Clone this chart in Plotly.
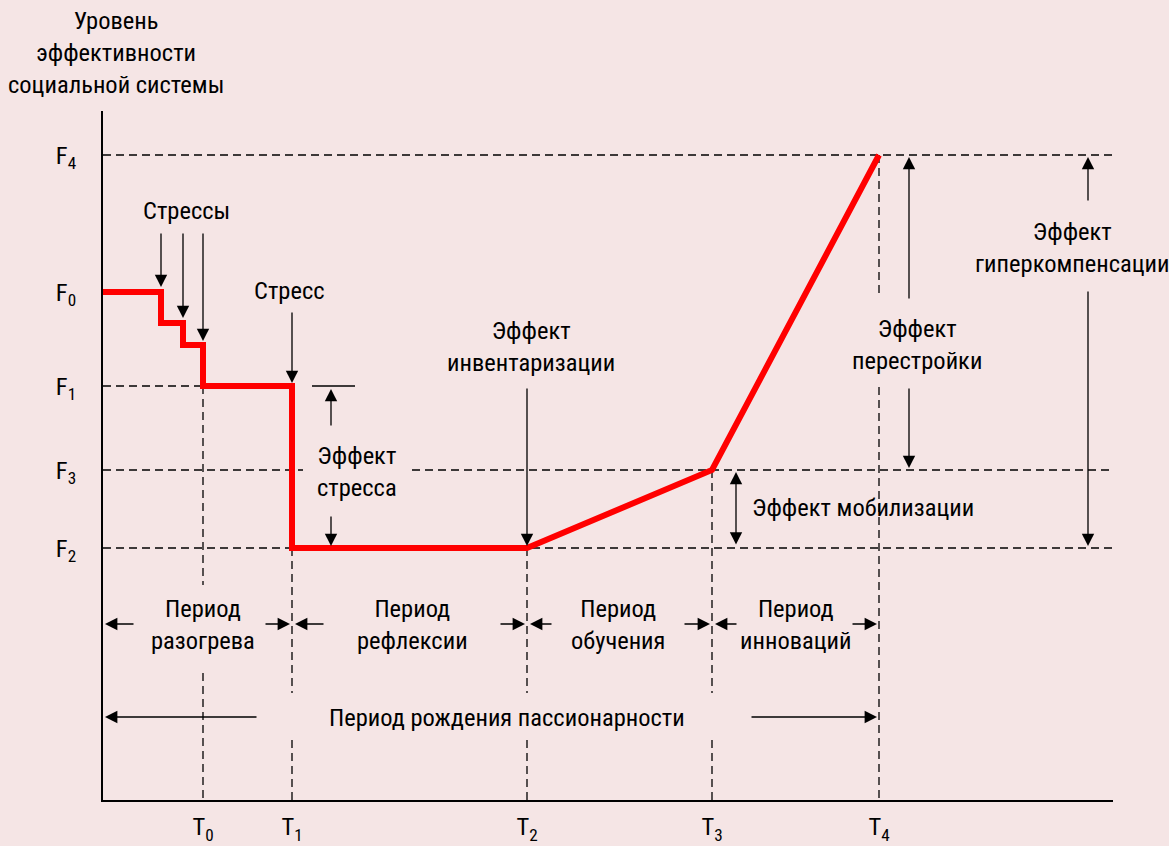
import plotly.graph_objects as go

# time marks (x) and efficiency levels (y)
T_LABELS = ["T<sub>0</sub>", "T<sub>1</sub>", "T<sub>2</sub>", "T<sub>3</sub>", "T<sub>4</sub>"]
T_VALUES = [100, 189, 424, 609, 776]
F_LABELS = ["F<sub>4</sub>", "F<sub>0</sub>", "F<sub>1</sub>", "F<sub>3</sub>", "F<sub>2</sub>"]
F_VALUES = [645, 508, 414, 330, 252]

# efficiency curve
curve_x = [0, 58, 58, 80, 80, 100, 100, 189, 189, 424, 609, 776]
curve_y = [508, 508, 477, 477, 455, 455, 414, 414, 252, 252, 330, 645]

# stress moments
stress_x = [58, 80, 100]
stress_tip = [513, 482, 459]

BG = "#f5e5e5"
FONT = "Liberation Sans Narrow, Arial Narrow, Roboto Condensed, DejaVu Sans Condensed, sans-serif"
FS = 24.5
T0, T1, T2, T3, T4 = T_VALUES
F4, F0, F1, F3, F2 = F_VALUES

fig = go.Figure()
fig.add_trace(go.Scatter(x=curve_x, y=curve_y, mode="lines",
                         line=dict(color="#ff0000", width=6), hoverinfo="skip"))

shapes = []


def dash(x0, y0, x1, y1):
    shapes.append(dict(type="line", x0=x0, y0=y0, x1=x1, y1=y1, xref="x", yref="y",
                       line=dict(color="black", width=1.3, dash="8px,5px"), layer="below"))


# horizontal guides
dash(0, F4, 1014, F4)
dash(0, F1, T0, F1)
dash(0, F3, 200, F3)
dash(309, F3, 1017, F3)
dash(0, F2, 1022, F2)
# vertical guides
dash(T0, F1, T0, 215)
dash(T0, 127, T0, 0)
for t, top in [(T1, F2), (T2, F2), (T3, F3)]:
    dash(t, top, t, 107)
    dash(t, 60, t, 0)
dash(T4, F4, T4, 502)
dash(T4, 413, T4, 0)
# small solid mark for stress effect
shapes.append(dict(type="line", x0=209, y0=F1, x1=252, y1=F1, xref="x", yref="y",
                   line=dict(color="black", width=1.3)))

annotations = []


def arrow(x, y, ax, ay, both=False):
    annotations.append(dict(x=x, y=y, ax=ax, ay=ay, xref="x", yref="y", axref="x", ayref="y",
                            text="", showarrow=True, arrowhead=2, arrowsize=1.9,
                            arrowwidth=1.3, arrowcolor="black",
                            arrowside="end+start" if both else "end"))


def label(x, y, text, anchor="center"):
    annotations.append(dict(x=x, y=y, xref="x", yref="y", text=text, showarrow=False,
                            xanchor=anchor, yanchor="middle", align="center",
                            font=dict(family=FONT, size=FS, color="black")))


for sx, tip in zip(stress_x, stress_tip):
    arrow(sx, tip, sx, 568)
arrow(T1, 417, T1, 489)
arrow(228, 411, 228, 373)
arrow(228, F2 + 2, 228, 285)
arrow(T2, F2 + 2, T2, 413)
arrow(806, F4 - 2, 806, 500)
arrow(806, F3 + 2, 806, 413)
arrow(985, F4 - 2, 985, 598)
arrow(985, F2 + 2, 985, 510)
arrow(633, F3 - 2, 633, F2 + 2, both=True)

# period arrows
row = 176
for (l_tail, l_head, r_tail, r_head) in [(32, 2, 161, T1 - 2), (222, T1 + 3, 396, T2 - 2),
                                           (450, T2 + 3, 580, T3 - 2), (635, T3 + 3, 748, T4 - 2)]:
    arrow(l_head, row, l_tail, row)
    arrow(r_head, row, r_tail, row)
arrow(2, 83, 155, 83)
arrow(T4 - 2, 83, 647, 83)

# axis title sits above the plotting area
annotations.append(dict(x=13, y=1.0856, xref="x", yref="paper", showarrow=False,
                        text="Уровень<br>эффективности<br>социальной системы",
                        xanchor="center", yanchor="middle", align="center",
                        font=dict(family=FONT, size=FS, color="black")))
label(83, 590, "Стрессы")
label(186, 510, "Стресс")
label(254, 329, "Эффект<br>стресса")
label(428, 454, "Эффект<br>инвентаризации")
label(814, 456, "Эффект<br>перестройки")
label(969, 553, "Эффект<br>гиперкомпенсации")
label(647, 293, "Эффект мобилизации", anchor="left")
label(100, row, "Период<br>разогрева")
label(309, row, "Период<br>рефлексии")
label(515, row, "Период<br>обучения")
label(693, row, "Период<br>инноваций")
label(404, 83, "Период рождения пассионарности")

fig.update_layout(
    width=1169, height=846,
    margin=dict(l=103, r=56, t=111, b=46),
    paper_bgcolor=BG, plot_bgcolor=BG,
    showlegend=False,
    shapes=shapes, annotations=annotations,
    font=dict(family=FONT, size=FS, color="black"),
    xaxis=dict(range=[0, 1010], showgrid=False, zeroline=False, showline=True,
               linecolor="black", linewidth=2, tickvals=T_VALUES, ticktext=T_LABELS,
               ticks="", ticklabelstandoff=4, automargin=False,
               tickfont=dict(family=FONT, size=FS)),
    yaxis=dict(range=[0, 689], showgrid=False, zeroline=False, showline=True,
               linecolor="black", linewidth=2, tickvals=F_VALUES, ticktext=F_LABELS,
               ticks="", ticklabelstandoff=20, automargin=False,
               tickfont=dict(family=FONT, size=FS)),
)

fig.write_html("out.html", config={"displayModeBar": False},
               post_script="document.body.style.margin='0';"
                           "document.body.style.background='%s';" % BG)
